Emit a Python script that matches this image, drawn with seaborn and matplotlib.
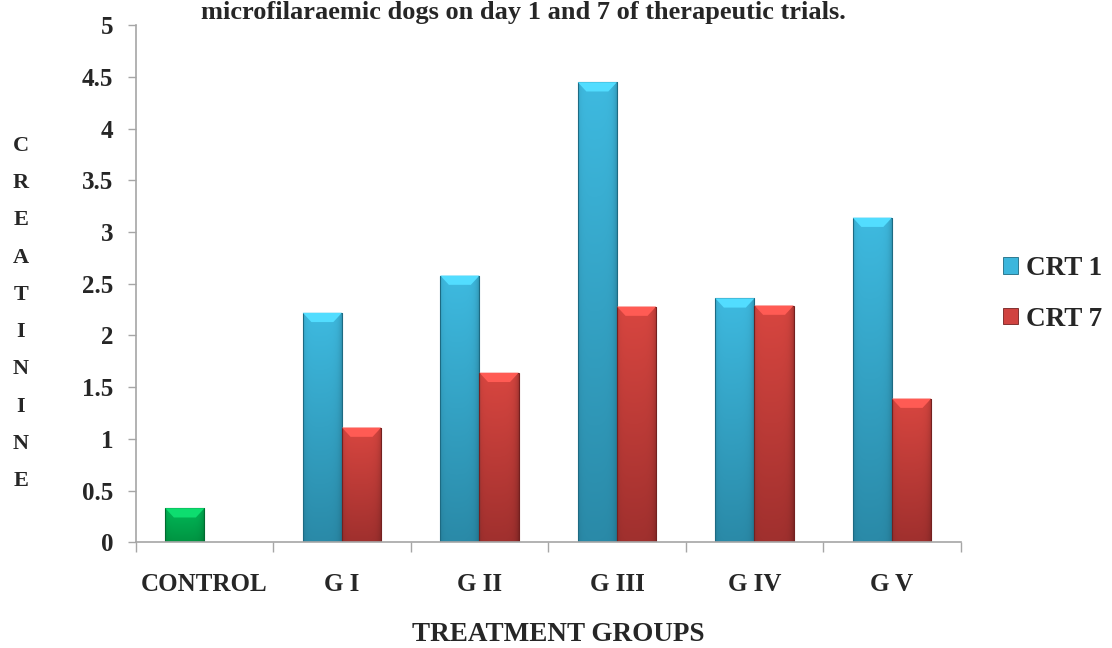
import numpy as np
import pandas as pd
import matplotlib
matplotlib.use("Agg")
import matplotlib.pyplot as plt
from matplotlib.patches import Patch, Polygon
from matplotlib.ticker import FixedLocator, FuncFormatter
import seaborn as sns

# Serum creatinine per treatment group, day 1 (CRT 1) and day 7 (CRT 7)
groups = ["CONTROL", "G I", "G II", "G III", "G IV", "G V"]
crt1 = [0.33, 2.22, 2.58, 4.45, 2.36, 3.14]
crt7 = [None, 1.11, 1.64, 2.28, 2.29, 1.39]
series = ["CRT 1", "CRT 7"]
y_ticks = [0, 0.5, 1, 1.5, 2, 2.5, 3, 3.5, 4, 4.5, 5]

title_line = "microfilaraemic dogs on day 1 and 7 of therapeutic trials."
x_title = "TREATMENT GROUPS"
y_title = "CREATININE"

rows = []
for g, a, b in zip(groups, crt1, crt7):
    if a is not None:
        rows.append({"group": g, "series": "CRT 1", "value": a})
    if b is not None:
        rows.append({"group": g, "series": "CRT 7", "value": b})
df = pd.DataFrame(rows)

sns.set_style("white")
plt.rcParams["font.family"] = ["Liberation Serif", "DejaVu Serif"]
plt.rcParams["font.weight"] = "bold"

# (top colour, bottom colour, edge colour)
shades = {
    "CRT 1": ((62, 186, 224), (42, 138, 168), "#1d6a82"),
    "CRT 7": ((216, 70, 64), (160, 48, 46), "#74201f"),
    "control": ((0, 186, 88), (0, 148, 66), "#006b30"),
}

fig = plt.figure(figsize=(11.12, 6.48), dpi=100)
ax = fig.add_axes([135.7 / 1112, 105.7 / 648, 825 / 1112, 517 / 648])

sns.barplot(data=df, x="group", y="value", hue="series", order=groups,
            hue_order=series, width=0.57, gap=0, errorbar=None,
            palette={"CRT 1": "#3cb6dc", "CRT 7": "#d04340"},
            legend=False, ax=ax)


def shade_bar(patch, key):
    top_c, bot_c, edge_c = shades[key]
    x0, y0 = patch.get_x(), patch.get_y()
    w, h = patch.get_width(), patch.get_height()
    if not np.isfinite(h) or h <= 0:
        return
    ny, nx = 128, 48
    t = np.linspace(0, 1, ny)[:, None, None]
    top = np.array(top_c)[None, None, :] / 255
    bot = np.array(bot_c)[None, None, :] / 255
    img = top * (1 - t) + bot * t
    u = np.linspace(0, 1, nx)[None, :, None]
    side = 1 - 0.10 * np.exp(-u / 0.06) - 0.22 * np.exp(-(1 - u) / 0.08)
    img = np.clip(img * side, 0, 1)
    patch.set_facecolor("none")
    patch.set_edgecolor(edge_c)
    patch.set_linewidth(0.8)
    im = ax.imshow(img, extent=(x0, x0 + w, y0, y0 + h), origin="upper",
                   aspect="auto", zorder=patch.get_zorder() - 0.01,
                   interpolation="bilinear")
    im.set_clip_path(patch)
    # bevelled cap on top of the bar
    dy = min(0.09, h * 0.3)
    dx = w * 0.22
    light = tuple(min(1, c / 255 * 1.12 + 0.05) for c in top_c)
    cap = Polygon([(x0, y0 + h), (x0 + w, y0 + h),
                   (x0 + w - dx, y0 + h - dy), (x0 + dx, y0 + h - dy)],
                  closed=True, facecolor=light, edgecolor="none",
                  zorder=patch.get_zorder() + 0.01)
    ax.add_patch(cap)


for s, container in zip(series, ax.containers):
    for patch in container.patches:
        gi = int(round(patch.get_x() + patch.get_width() / 2))
        shade_bar(patch, "control" if groups[gi] == "CONTROL" else s)

ax.set_xlim(-0.5, len(groups) - 0.5)
ax.set_ylim(0, 5)

# group separators as ticks, names on minor ticks at group centres
ax.xaxis.set_major_locator(FixedLocator(np.arange(-0.5, len(groups), 1.0)))
ax.set_xticklabels([""] * (len(groups) + 1))
ax.set_xticks(np.arange(len(groups)), labels=groups, minor=True)
ax.tick_params(axis="x", which="major", length=7, width=1, color="#a6a6a6",
               direction="out", bottom=True)
ax.tick_params(axis="x", which="minor", length=0, pad=22, labelsize=18)
for lbl in ax.get_xticklabels(minor=True):
    lbl.set_fontweight("bold")

ax.yaxis.set_major_locator(FixedLocator(y_ticks))
ax.yaxis.set_major_formatter(FuncFormatter(lambda v, p: f"{v:g}"))
ax.tick_params(axis="y", length=6, width=1, color="#a6a6a6", direction="out",
               left=True, pad=10, labelsize=18)
for lbl in ax.get_yticklabels():
    lbl.set_fontweight("bold")

for side in ("top", "right"):
    ax.spines[side].set_visible(False)
for side in ("left", "bottom"):
    ax.spines[side].set_color("#a6a6a6")
    ax.spines[side].set_linewidth(1.2)

ax.set_ylabel("")
ax.set_xlabel(x_title, fontsize=19.5, fontweight="bold", va="center")
ax.xaxis.set_label_coords(0.512, -0.178)

fig.text(21 / 1112, 1 - 313.5 / 648, "\n".join(y_title), ha="center",
         va="center", fontsize=16, fontweight="bold", linespacing=2.15)

fig.text(523 / 1112, 1 - 1 / 648, title_line, ha="center", va="top",
         fontsize=19, fontweight="bold")

handles = [Patch(facecolor="#3cb6dc", edgecolor="#1d6a82", linewidth=0.6),
           Patch(facecolor="#d04340", edgecolor="#74201f", linewidth=0.6)]
fig.legend(handles, series, loc="upper left",
           bbox_to_anchor=(1003 / 1112, 1 - 256 / 648), frameon=False,
           handlelength=0.55, handleheight=0.55,
           handletextpad=0.3, labelspacing=0.95, borderpad=0,
           borderaxespad=0, prop={"weight": "bold", "size": 19.5})

fig.savefig("out.png", dpi=100)
